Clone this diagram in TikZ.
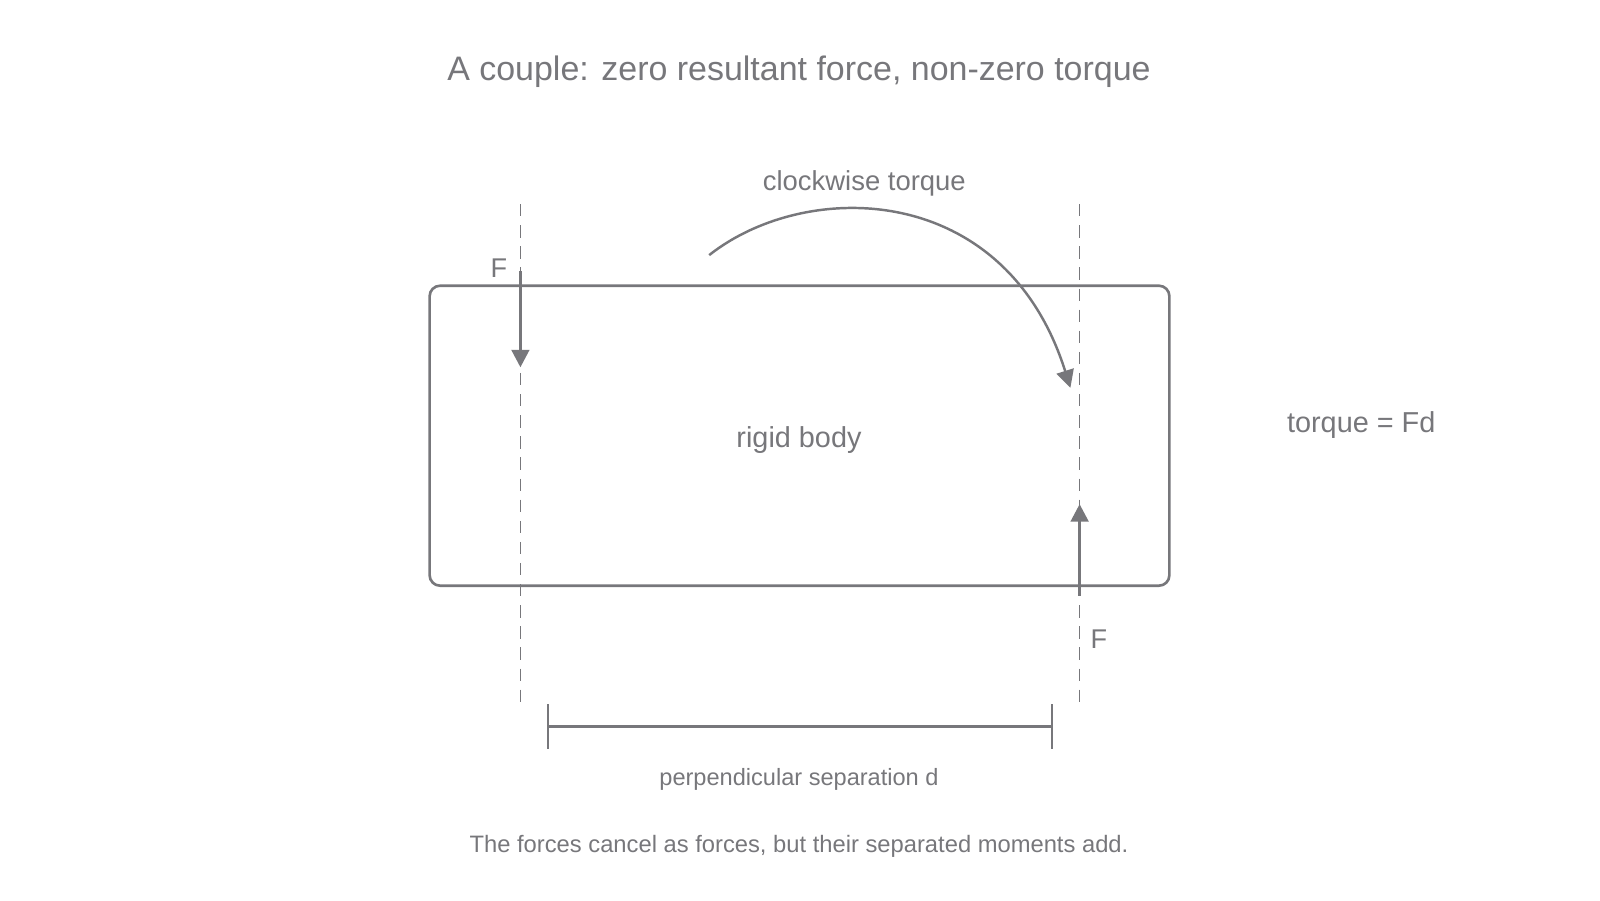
\documentclass[tikz,border=0pt]{standalone}
\usepackage{fontspec}
\setmainfont{Liberation Sans}
\usetikzlibrary{arrows.meta}
\definecolor{ink}{HTML}{77777B}
\begin{document}
\begin{tikzpicture}[x=0.0102cm,y=-0.0102cm]
\tikzset{every node/.style={text=ink,inner sep=0pt},
  force/.style={draw=ink,line width=0.9pt,-{Triangle[length=5pt,width=5pt]}},
  guide/.style={draw=ink,line width=0.5pt,dash pattern=on 3.5pt off 2.5pt}}
\useasboundingbox (0,0) rectangle (1568,882);
\node (title) at (783,70) {\fontsize{9.65}{11}\selectfont A couple: zero resultant force, non-zero torque};
\draw [ink,line width=0.75pt,rounded corners=3pt] (421,280) rectangle (1146,574);
\node (body) at (783,431) {\fontsize{8.2}{10}\selectfont rigid body};
\node (tq) at (1334,417) {\fontsize{8.2}{10}\selectfont torque = Fd};
\coordinate (gl1) at (510,200);
\coordinate (gl2) at (510,688);
\coordinate (gr1) at (1058,200);
\coordinate (gr2) at (1058,688);
\draw [guide] (gl1) -- (gl2);
\draw [guide] (gr1) -- (gr2);
\coordinate (fl1) at (510,266);
\coordinate (fl2) at (510,360);
\draw [force] (fl1) -- (fl2);
\node (Fl) at (489,263) {\fontsize{7.7}{9}\selectfont F};
\coordinate (fr1) at (1058,584);
\coordinate (fr2) at (1058,494);
\draw [force] (fr1) -- (fr2);
\node (Fr) at (1077,626) {\fontsize{7.7}{9}\selectfont F};
\coordinate (a1) at (695,250);
\coordinate (a2) at (1049,380);
\draw [force,line width=0.7pt] (a1) .. controls (790,175) and (985,177) .. (a2);
\node (cw) at (847,180) {\fontsize{7.8}{9}\selectfont clockwise torque};
\coordinate (d1) at (537,712);
\coordinate (d2) at (1031,712);
\draw [ink,line width=0.6pt] (d1) -- (d2);
\draw [ink,line width=0.6pt] (537,690) -- (537,734) (1031,690) -- (1031,734);
\node (sep) at (783,764) {\fontsize{6.7}{8}\selectfont perpendicular separation d};
\node (cap) at (783,829) {\fontsize{6.75}{8}\selectfont The forces cancel as forces, but their separated moments add.};
\end{tikzpicture}
\end{document}
